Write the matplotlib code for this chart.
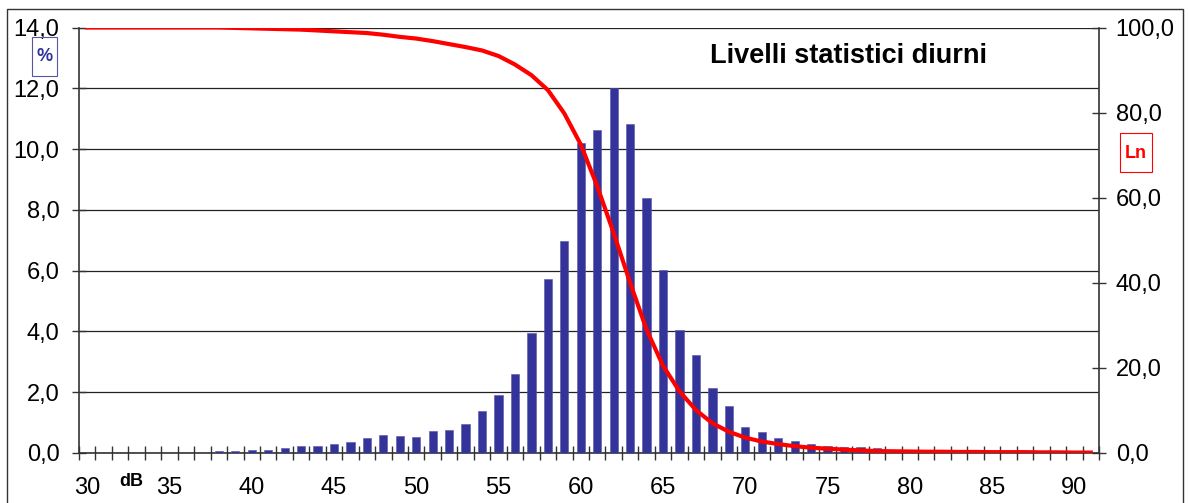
import matplotlib
matplotlib.use("Agg")
import matplotlib.pyplot as plt
from matplotlib.patches import Rectangle
from matplotlib.ticker import FixedLocator, FuncFormatter

plt.rcParams['font.family'] = ['Liberation Sans', 'DejaVu Sans']

levels = list(range(30, 92))
percent = [0, 0, 0, 0, 0, 0, 0, 0,
           0.05, 0.08, 0.11, 0.11, 0.16, 0.22, 0.22, 0.31, 0.37, 0.50,
           0.58, 0.56, 0.54, 0.72, 0.76, 0.96, 1.37, 1.90, 2.60, 3.94,
           5.71, 6.98, 10.21, 10.64, 12.02, 10.84, 8.40, 6.03, 4.06, 3.23,
           2.14, 1.54, 0.86, 0.68, 0.49, 0.41, 0.30, 0.22, 0.21, 0.20,
           0.15, 0, 0, 0, 0, 0, 0, 0, 0, 0, 0, 0, 0, 0]
ln = [100.0, 100.0, 100.0, 100.0, 100.0, 100.0, 100.0, 100.0, 100.0, 99.9,
      99.8, 99.7, 99.6, 99.5, 99.3, 99.1, 98.9, 98.7, 98.3, 97.8,
      97.4, 96.8, 96.1, 95.4, 94.6, 93.3, 91.3, 88.8, 85.3, 79.8,
      72.5, 62.7, 51.7, 40.0, 29.0, 20.5, 14.5, 10.1, 7.0, 5.0,
      3.6, 2.7, 2.1, 1.6, 1.25, 1.0, 0.8, 0.6, 0.45, 0.4,
      0.35, 0.3, 0.3, 0.25, 0.25, 0.2, 0.2, 0.2, 0.15, 0.15,
      0.1, 0.1]
x_labels = [30, 35, 40, 45, 50, 55, 60, 65, 70, 75, 80, 85, 90]
title = "Livelli statistici diurni"

W, H = 1188, 503
fig = plt.figure(figsize=(W / 100, H / 100), dpi=100)
fig.patch.set_facecolor('white')

L, R, T, B = 79, 1099, 27.5, 453
ax = fig.add_axes([L / W, 1 - B / H, (R - L) / W, (B - T) / H])
ax.set_facecolor('white')

ax.bar(levels, percent, width=0.5, color='#333399', edgecolor='#5555aa',
       linewidth=0.4, zorder=3)
ax.set_xlim(29.5, 91.5)
ax.set_ylim(0, 14)

comma = FuncFormatter(lambda v, p: f"{v:.1f}".replace('.', ','))

ax.yaxis.set_major_locator(FixedLocator([0, 2, 4, 6, 8, 10, 12, 14]))
ax.yaxis.set_major_formatter(comma)
ax.grid(axis='y', color='#222222', linewidth=0.9, zorder=1)
ax.tick_params(axis='y', direction='inout', length=10, width=1.0,
               color='#333333', labelsize=17, pad=9)

ax.xaxis.set_major_locator(FixedLocator(x_labels))
ax.xaxis.set_minor_locator(FixedLocator([29.5 + k for k in range(63)]))
ax.tick_params(axis='x', which='major', length=0, labelsize=17, pad=17)
ax.tick_params(axis='x', which='minor', direction='inout', length=9.5,
               width=1.0, color='#333333')

for s in ['top', 'right']:
    ax.spines[s].set_visible(False)
for s in ['left', 'bottom']:
    ax.spines[s].set_color('#333333')
    ax.spines[s].set_linewidth(1.2)

ax2 = ax.twinx()
ax2.plot(levels, ln, color='#ff0000', linewidth=3.0, zorder=5,
         solid_joinstyle='round')
ax2.set_ylim(0, 100)
ax2.yaxis.set_major_locator(FixedLocator([0, 20, 40, 60, 80, 100]))
ax2.yaxis.set_major_formatter(comma)
ax2.tick_params(axis='y', direction='inout', length=10, width=1.0,
                color='#333333', labelsize=17, pad=7)
for s in ['top', 'left', 'bottom']:
    ax2.spines[s].set_visible(False)
ax2.spines['right'].set_color('#333333')
ax2.spines['right'].set_linewidth(1.2)

# Title
fig.text(848 / W, 1 - 56 / H, title, ha='center', va='center',
         fontsize=19.5, fontweight='bold', color='black')

# Axis unit labels
fig.text(44.5 / W, 1 - 56.5 / H, "%", ha='center', va='center',
         fontsize=13, fontweight='bold', color='#333399')
fig.patches.append(Rectangle((32 / W, 1 - 76 / H), 25 / W, 39 / H,
                             transform=fig.transFigure, fill=False,
                             edgecolor='#5555aa', linewidth=0.8))
fig.text(1136 / W, 1 - 153 / H, "Ln", ha='center', va='center',
         fontsize=13, fontweight='bold', color='#ff0000')
fig.patches.append(Rectangle((1120 / W, 1 - 172 / H), 32 / W, 39 / H,
                             transform=fig.transFigure, fill=False,
                             edgecolor='#ff0000', linewidth=0.8))
fig.text(131.5 / W, 1 - 481 / H, "dB", ha='center', va='center',
         fontsize=13, fontweight='bold', color='black')

# Outer border
fig.patches.append(Rectangle((7 / W, -0.05), (1183 - 7) / W, 1.05 - 9 / H,
                             transform=fig.transFigure, fill=False,
                             edgecolor='#333333', linewidth=1.0))

fig.savefig("out.png", dpi=100, facecolor='white')
